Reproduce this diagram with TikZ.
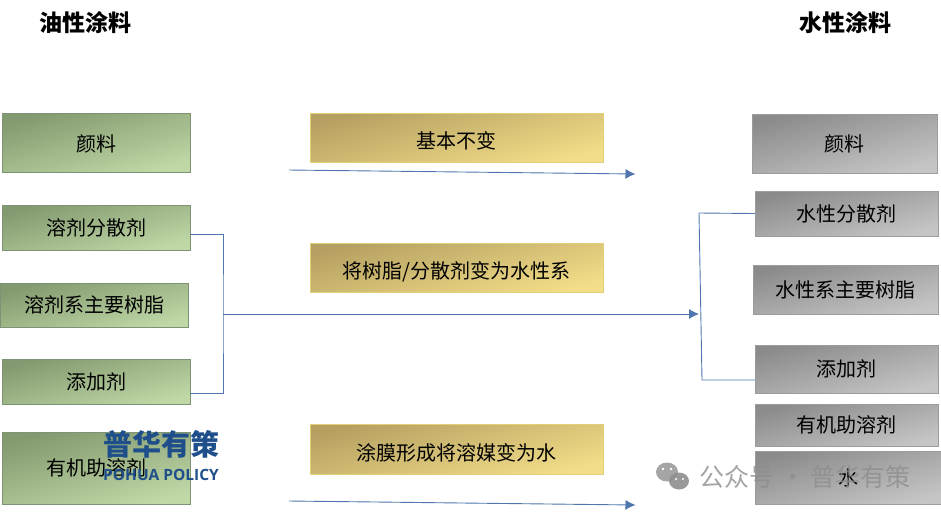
\documentclass[tikz,border=0pt]{standalone}
\usepackage{fontspec}
\setmainfont{Noto Sans CJK SC}
\newfontfamily\latinfont{Open Sans}
\usetikzlibrary{positioning,arrows.meta,calc}
\definecolor{greenA}{HTML}{83996F}
\definecolor{greenB}{HTML}{A6BD90}
\definecolor{greenC}{HTML}{BFD8A6}
\definecolor{greenline}{HTML}{7E9274}
\definecolor{goldA}{HTML}{B5A062}
\definecolor{goldB}{HTML}{D3BE78}
\definecolor{goldC}{HTML}{F2DD88}
\definecolor{goldline}{HTML}{E3CF78}
\definecolor{greyA}{HTML}{8C8B8B}
\definecolor{greyB}{HTML}{ABAAAA}
\definecolor{greyC}{HTML}{C6C5C5}
\definecolor{greyline}{HTML}{9C9C9C}
\definecolor{linkblue}{HTML}{4F76AE}
\definecolor{logoblue}{HTML}{1F4F8A}
\definecolor{wmgrey}{HTML}{8E8E8E}
\tikzset{
  box/.style={text=black,font=\fontsize{20}{22}\selectfont,inner sep=0pt,align=center},
  oilbox/.style={box,draw=greenline,top color=greenA,middle color=greenB,bottom color=greenC,shading angle=15},
  midbox/.style={box,draw=goldline,top color=goldA,middle color=goldB,bottom color=goldC,shading angle=15,text height=24pt,text depth=2pt},
  waterbox/.style={box,draw=greyline,top color=greyA,middle color=greyB,bottom color=greyC,shading angle=15},
  linkline/.style={linkblue,line width=.9pt},
  linkarrow/.style={-{Latex[length=10pt,width=10pt]},linkblue,line width=.9pt},
  heading/.style={font=\fontsize{23}{25}\selectfont\bfseries,text=black,inner sep=0pt},
}
\begin{document}
\begin{tikzpicture}[x=1pt,y=-1pt]
  \useasboundingbox (0,0) rectangle (941,515);
  \node[heading] (oil) at (85,23){油性涂料};
  \node[heading] (water) at (845,23){水性涂料};
  % left column
  \node[oilbox,minimum width=188pt,minimum height=59pt,text height=19pt,text depth=1pt] (opig) at (96,142.5){颜料};
  \node[oilbox,minimum width=188pt,minimum height=45pt] (odsp) at (96,227.5){溶剂分散剂};
  \node[oilbox,minimum width=188pt,minimum height=44pt] (ores) at (94,305){溶剂系主要树脂};
  \node[oilbox,minimum width=188pt,minimum height=45pt] (oadd) at (96,381.5){添加剂};
  \node[oilbox,minimum width=188pt,minimum height=72pt] (ocos) at (96,468){有机助溶剂};
  % middle column
  \node[midbox,minimum width=293pt,minimum height=49pt] (mpig) at (456.5,137.5){基本不变};
  \node[midbox,minimum width=293pt,minimum height=49pt] (mres) at (456.5,267.5){将树脂/分散剂变为水性系};
  \node[midbox,minimum width=293pt,minimum height=50pt] (msol) at (456.5,449){涂膜形成将溶媒变为水};
  % right column
  \node[waterbox,minimum width=185pt,minimum height=59pt] (wpig) at (844.5,143.5){颜料};
  \node[waterbox,minimum width=183pt,minimum height=45pt] (wdsp) at (846.5,213.5){水性分散剂};
  \node[waterbox,minimum width=185pt,minimum height=49pt] (wres) at (845.5,289.5){水性系主要树脂};
  \node[waterbox,minimum width=183pt,minimum height=48pt] (wadd) at (846.5,369){添加剂};
  \node[waterbox,minimum width=183pt,minimum height=42pt] (wcos) at (846.5,425){有机助溶剂};
  \node[waterbox,minimum width=186pt,minimum height=53pt] (wwat) at (848,477.5){水};
  % connectors
  \coordinate (jl) at (223,314);
  \coordinate (jr) at (699,314);
  \coordinate (jt) at (699,213);
  \coordinate (jb) at (702,380);
  \coordinate (a1) at (289,170);
  \coordinate (a2) at (635.5,174);
  \coordinate (b1) at (289,501);
  \coordinate (b2) at (635.5,505);
  \draw[linkline] ([yshift=-7pt]odsp.east) -| (jl) |- ([yshift=-12pt]oadd.east);
  \draw[linkarrow] (jl)--(jr);
  \draw[linkline] (wdsp.west) -- (jt) -- (jb) -- ([yshift=-11pt]wadd.west);
  \draw[linkarrow] (a1)--(a2);
  \draw[linkarrow] (b1)--(b2);
  % watermarks
  \node[text=logoblue,font=\fontsize{29}{31}\selectfont\bfseries,inner sep=0pt] (logocn) at (161,444){普华有策};
  \node[text=logoblue,font=\latinfont\fontsize{15.5}{18}\selectfont\bfseries,inner sep=0pt] (logoen) at (161,475){POHUA POLICY};
  \node[text=wmgrey,opacity=.8,font=\fontsize{25}{27}\selectfont,inner sep=0pt] (wmark) at (805,477){公众号 · 普华有策};
  \fill[wmgrey,opacity=.8] (667,472) ellipse (11pt and 9.5pt);
  \fill[wmgrey,opacity=.9] (679,481) ellipse (10pt and 8.5pt);
  \fill[white] (663,469) circle (1.3pt) (671,469) circle (1.3pt) (676,479) circle (1.2pt) (683,479) circle (1.2pt);
\end{tikzpicture}
\end{document}
